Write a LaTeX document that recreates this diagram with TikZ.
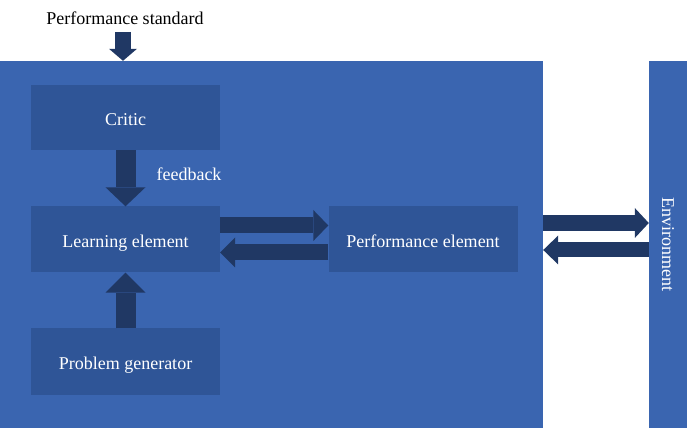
\documentclass[tikz,border=0pt]{standalone}
\usepackage{fontspec}
\setmainfont{Liberation Serif}
\usetikzlibrary{positioning, arrows.meta}

\definecolor{outerblue}{RGB}{58,101,176}
\definecolor{boxblue}{RGB}{47,85,151}
\definecolor{arrowblue}{RGB}{32,56,100}

\tikzset{
    unit/.style={rectangle, fill=boxblue, text=white, minimum width=189pt, minimum height=66pt, inner sep=0pt, text height=16pt, text depth=0pt},
    fat/.style n args={3}{draw=arrowblue, line width=#1, -{Triangle[width=#2, length=#3, line width=0pt]}},
}

\begin{document}
\begin{tikzpicture}[x=1pt, y=1pt, node distance=122pt, on grid, font=\fontsize{18}{21}\selectfont]
    \useasboundingbox (0,0) rectangle (687,428);
    \node[rectangle, fill=outerblue, minimum width=543pt, minimum height=367pt, inner sep=0pt] (agent) at (271.5,183.5) {};
    \node[rectangle, fill=outerblue, minimum width=38pt, minimum height=367pt, inner sep=0pt, text=white] (env) at (668,183.5) {\rotatebox{-90}{Environment}};

    \node[unit, minimum height=65pt] (critic) at (125.5,310.5) {Critic};
    \node[unit] (learn) [below=of critic] {Learning element};
    \node[unit] (gen) [below=of learn] {Problem generator};
    \node[unit] (perf) [right=297.5pt of learn] {Performance element};

    \node (std) at (125,410) {Performance standard};
    \coordinate (stdtop) at (123,396);
    \node[text=white, anchor=west] (fb) at (153,254) {feedback};

    \draw[fat={16pt}{28pt}{12pt}] (stdtop) -- (stdtop |- agent.north);
    \draw[fat={20pt}{40pt}{19pt}] (critic.south) -- (learn.north);
    \draw[fat={20pt}{40pt}{20pt}] (gen.north) -- (learn.south);
    \draw[fat={16pt}{31pt}{15pt}] ([yshift=14pt]learn.east) -- ([yshift=14pt]perf.west);
    \draw[fat={16pt}{30pt}{15pt}] ([yshift=-13pt]perf.west) -- ([yshift=-13pt]learn.east);
    \draw[fat={16pt}{30pt}{14pt}] ([yshift=21.5pt]agent.east) -- ([yshift=21.5pt]env.west);
    \draw[fat={15pt}{29pt}{15pt}] ([yshift=-5.5pt]env.west) -- ([yshift=-5.5pt]agent.east);
\end{tikzpicture}
\end{document}
